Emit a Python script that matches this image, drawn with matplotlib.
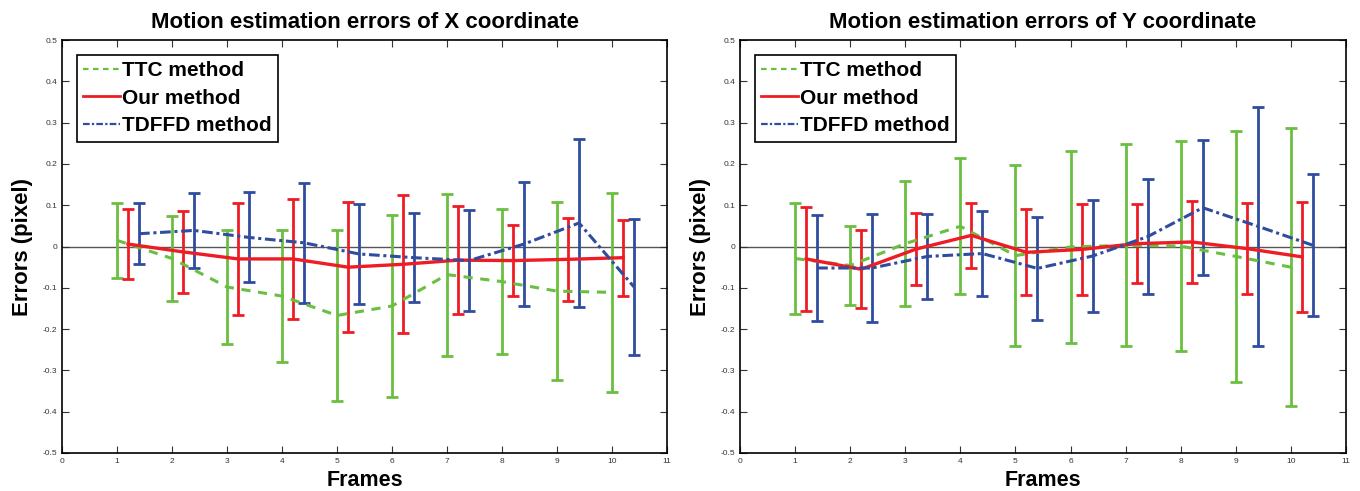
import numpy as np
import matplotlib.pyplot as plt
from matplotlib.lines import Line2D

# frame numbers
frames = np.arange(1, 11)

# X coordinate errors (mean, half-width of error bar)
ttc_x = [0.015, -0.029, -0.098, -0.120, -0.167, -0.144, -0.068, -0.085, -0.108, -0.111]
ttc_x_err = [0.090, 0.102, 0.138, 0.160, 0.207, 0.221, 0.196, 0.176, 0.215, 0.241]
our_x = [0.006, -0.013, -0.030, -0.030, -0.050, -0.043, -0.033, -0.034, -0.031, -0.027]
our_x_err = [0.084, 0.100, 0.135, 0.145, 0.157, 0.167, 0.131, 0.085, 0.100, 0.092]
tdffd_x = [0.031, 0.039, 0.022, 0.009, -0.018, -0.027, -0.034, 0.006, 0.057, -0.098]
tdffd_x_err = [0.074, 0.091, 0.109, 0.145, 0.120, 0.107, 0.123, 0.151, 0.204, 0.165]

# Y coordinate errors
ttc_y = [-0.029, -0.046, 0.007, 0.049, -0.022, -0.001, 0.003, 0.001, -0.024, -0.050]
ttc_y_err = [0.134, 0.095, 0.151, 0.165, 0.220, 0.233, 0.245, 0.254, 0.304, 0.336]
our_y = [-0.030, -0.055, -0.006, 0.027, -0.014, -0.007, 0.007, 0.011, -0.005, -0.025]
our_y_err = [0.125, 0.095, 0.086, 0.078, 0.104, 0.110, 0.095, 0.099, 0.110, 0.133]
tdffd_y = [-0.052, -0.052, -0.024, -0.017, -0.053, -0.023, 0.024, 0.094, 0.049, 0.003]
tdffd_y_err = [0.128, 0.130, 0.103, 0.104, 0.125, 0.135, 0.140, 0.163, 0.290, 0.172]

xtick_vals = list(range(0, 12))
ytick_vals = [-0.5, -0.4, -0.3, -0.2, -0.1, 0, 0.1, 0.2, 0.3, 0.4, 0.5]
ytick_labels = ['-0.5', '-0.4', '-0.3', '-0.2', '-0.1', '0', '0.1', '0.2', '0.3', '0.4', '0.5']

green = '#6abf40'
red = '#ee1c25'
blue = '#2f4c9f'

plt.rcParams['font.family'] = ['Liberation Sans', 'DejaVu Sans']

fig = plt.figure(figsize=(13.6, 4.91), dpi=100)
ax1 = fig.add_axes([0.0456, 0.0774, 0.4449, 0.841])
ax2 = fig.add_axes([0.5441, 0.0774, 0.4456, 0.841])


def draw(ax, title, ttc, ttc_e, our, our_e, tdf, tdf_e):
    ax.axhline(0, color='#555555', lw=1.0, zorder=1)
    series = [
        (frames, ttc, ttc_e, green, (0, (3, 2.5)), 'TTC method'),
        (frames + 0.2, our, our_e, red, '-', 'Our method'),
        (frames + 0.4, tdf, tdf_e, blue, (0, (3.5, 1.2, 1, 1.2)), 'TDFFD method'),
    ]
    handles = []
    for xs, m, e, c, ls, lab in series:
        ax.errorbar(xs, m, yerr=e, fmt='none', ecolor=c, elinewidth=2, capsize=4, capthick=2, zorder=2)
        ax.plot(xs, m, color=c, ls=ls, lw=2.4 if ls == '-' else 2.2, zorder=3)
        hls = ls if ls == '-' else (0, (2.5, 2)) if lab.startswith('TTC') else (0, (3, 1, 1, 1))
        handles.append(Line2D([], [], color=c, ls=hls, lw=1.6 if ls != '-' else 2.0, label=lab))
    ax.set_xlim(0, 11)
    ax.set_ylim(-0.5, 0.5)
    ax.set_xticks(xtick_vals)
    ax.set_yticks(ytick_vals)
    ax.set_yticklabels(ytick_labels)
    ax.tick_params(direction='in', top=True, right=True, labelsize=6, length=5, width=0.8, colors='#333333')
    for s in ax.spines.values():
        s.set_linewidth(1.2)
    ax.set_title(title, fontsize=16, fontweight='bold', pad=9)
    ax.set_xlabel('Frames', fontsize=15.5, fontweight='bold', labelpad=4)
    ax.set_ylabel('Errors (pixel)', fontsize=16, fontweight='bold', labelpad=7)
    leg = ax.legend(handles=handles, loc='upper left', prop={'size': 15, 'weight': 'bold'},
                    handlelength=1.8, handletextpad=0.1, borderpad=0.3, labelspacing=0.42,
                    borderaxespad=0.7, fancybox=False, framealpha=1, edgecolor='black')
    leg.get_frame().set_linewidth(1.2)


draw(ax1, 'Motion estimation errors of X coordinate', ttc_x, ttc_x_err, our_x, our_x_err, tdffd_x, tdffd_x_err)
draw(ax2, 'Motion estimation errors of Y coordinate', ttc_y, ttc_y_err, our_y, our_y_err, tdffd_y, tdffd_y_err)

fig.savefig('out.png', dpi=100)
